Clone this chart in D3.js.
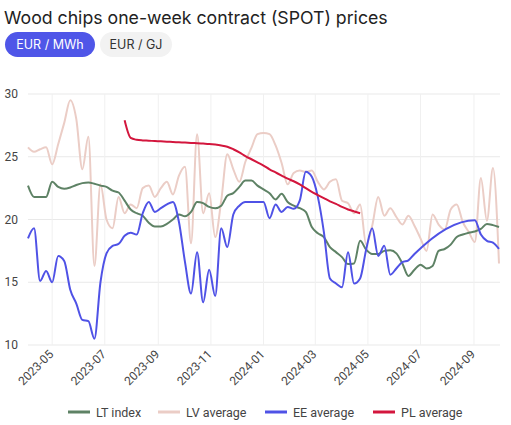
<!DOCTYPE html>
<html><head><meta charset="utf-8">
<script src="https://cdn.jsdelivr.net/npm/d3@7"></script>
<style>
html,body{margin:0;padding:0;background:#fff;}
svg{display:block;font-family:Inter,"Noto Sans",sans-serif;}
.ax{font-family:Roboto,"Liberation Sans",sans-serif;}
</style></head>
<body>
<svg id="chart" width="511" height="425"></svg>
<script>
const startWeek = "2023-04-03";
const weekCount = 79;
const yTicks = [10, 15, 20, 25, 30];
const xTickLabels = ["2023-05","2023-07","2023-09","2023-11","2024-01","2024-03","2024-05","2024-07","2024-09"];
const seriesNames = ["LT index","LV average","EE average","PL average"];
const seriesColors = ["#5e8265","#ebcdc6","#4f52e6","#d3163d"];

const ltIndex = [22.7,21.8,21.8,21.8,23.0,22.6,22.45,22.55,22.75,22.9,22.95,22.85,22.7,22.6,22.3,22.15,21.5,20.8,20.5,20.3,19.75,19.45,19.45,19.65,20.0,20.4,20.25,20.6,21.4,21.3,21.0,20.9,21.1,21.9,22.1,22.6,23.1,23.1,22.7,22.4,22.1,21.6,22.05,21.4,21.1,20.9,20.6,19.4,18.9,18.6,17.8,17.4,17.0,16.45,16.5,18.3,17.6,17.25,17.25,17.5,17.55,17.3,16.5,15.5,16.0,16.4,16.1,16.3,17.5,17.65,18.0,18.6,18.8,18.95,19.05,19.25,19.65,19.55,19.4];
const lvAverage = [25.75,25.4,25.6,25.75,24.4,26.0,27.7,29.5,28.0,24.0,26.6,16.3,22.8,20.0,19.3,21.8,20.5,21.2,20.9,22.5,22.7,21.8,22.5,23.0,22.0,23.5,24.2,18.1,26.8,20.5,22.1,18.6,21.5,25.2,24.0,23.0,24.6,25.7,26.8,26.9,26.8,25.9,24.5,22.8,23.7,23.9,23.8,23.9,23.0,22.4,23.0,23.2,21.5,21.3,20.5,21.2,18.0,19.5,21.8,20.3,20.9,20.2,19.6,20.3,19.5,18.5,17.5,20.4,19.6,19.2,20.8,21.2,19.8,19.0,18.2,23.3,19.9,24.1,16.5];
const eeAverage = [18.5,19.3,15.1,15.9,15.0,17.1,16.7,14.4,13.3,12.0,11.9,10.5,15.0,17.3,17.9,18.05,18.7,18.95,18.8,20.5,21.4,20.6,20.9,21.2,21.4,19.8,16.6,14.1,17.4,13.4,16.0,13.9,19.3,17.8,20.4,21.1,21.4,21.4,21.4,21.4,20.1,21.2,20.6,21.0,20.85,21.5,23.8,23.4,21.8,19.0,15.3,14.9,14.6,17.4,14.9,15.3,17.6,19.3,17.1,17.9,15.6,16.1,16.6,16.75,17.25,null,null,null,null,null,null,null,null,null,19.95,18.8,18.3,18.15,17.65];
const plAverage = [null,null,null,null,null,null,null,null,null,null,null,null,null,null,null,null,27.9,26.5,26.35,26.3,26.28,26.25,26.23,26.2,26.18,26.15,26.13,26.1,26.08,26.05,26.02,25.97,25.9,25.8,25.6,25.35,25.05,24.8,24.55,24.3,24.0,23.75,23.5,23.25,23.05,22.8,22.5,22.2,21.95,21.7,21.45,21.25,21.0,20.8,20.65,20.5,null,null,null,null,null,null,null,null,null,null,null,null,null,null,null,null,null,null,null,null,null,null,null];

const parse = d3.timeParse("%Y-%m-%d");
const fmt = d3.timeFormat("%Y-%m");
const dates = d3.range(weekCount).map(i => d3.timeDay.offset(parse(startWeek), 7*i));
const allSeries = [ltIndex, lvAverage, eeAverage, plAverage];

const svg = d3.select("#chart");
const plotL = 28, plotR = 499, plotT = 94, plotB = 345;

const x = d3.scaleTime().domain([dates[0], dates[dates.length-1]]).range([plotL, plotR]);
const y = d3.scaleLinear().domain([10, 30]).range([plotB, plotT]);

// title
svg.append("text").attr("x", 4).attr("y", 24).attr("font-size", 17.7).attr("fill", "#222")
  .text("Wood chips one-week contract (SPOT) prices");

// buttons
const btns = [{t:"EUR / MWh", x:5, w:90, fill:"#4f56e8", color:"#fff"},{t:"EUR / GJ", x:100, w:72, fill:"#f2f2f2", color:"#333"}];
btns.forEach(b => {
  svg.append("rect").attr("x", b.x).attr("y", 32).attr("width", b.w).attr("height", 25).attr("rx", 12.5).attr("fill", b.fill);
  svg.append("text").attr("x", b.x + b.w/2).attr("y", 49).attr("text-anchor", "middle").attr("font-size", 12.5).attr("fill", b.color).text(b.t);
});

// grid
const tickDates = xTickLabels.map(s => parse(s + "-01"));
svg.append("g").selectAll("line").data(yTicks).join("line")
  .attr("x1", plotL).attr("x2", plotR + 1).attr("y1", d => y(d)).attr("y2", d => y(d))
  .attr("stroke", "#e9e9e9").attr("stroke-width", 1);
svg.append("g").selectAll("line").data(tickDates).join("line")
  .attr("x1", d => x(d)).attr("x2", d => x(d)).attr("y1", plotT).attr("y2", plotB)
  .attr("stroke", "#f0f0f0").attr("stroke-width", 1);

// y labels
svg.append("g").attr("class", "ax").selectAll("text").data(yTicks).join("text")
  .attr("x", 18).attr("y", d => y(d) + 4).attr("text-anchor", "end")
  .attr("font-size", 12).attr("fill", "#444").text(d => d);

// x labels
svg.append("g").attr("class", "ax").selectAll("text").data(tickDates).join("text")
  .attr("transform", d => `translate(${x(d)+2},${plotB + 10}) rotate(-45)`)
  .attr("text-anchor", "end").attr("font-size", 12).attr("fill", "#444").text(d => fmt(d));

// lines
const line = d3.line().x(d => x(d.d)).y(d => y(d.v)).curve(d3.curveMonotoneX);
const order = [1, 0, 2, 3];
order.forEach(i => {
  const pts = dates.map((d, j) => ({d, v: allSeries[i][j]})).filter(p => p.v !== null);
  svg.append("path").datum(pts).attr("d", line).attr("fill", "none")
    .attr("stroke", seriesColors[i]).attr("stroke-width", 2).attr("stroke-linejoin", "round");
});

// legend
const legX = [68, 158, 265, 373];
seriesNames.forEach((n, i) => {
  svg.append("line").attr("x1", legX[i]).attr("x2", legX[i] + 22).attr("y1", 412).attr("y2", 412)
    .attr("stroke", seriesColors[i]).attr("stroke-width", 3);
  svg.append("text").attr("class", "ax").attr("x", legX[i] + 28).attr("y", 417).attr("font-size", 12.5).attr("fill", "#444").text(n);
});
</script>
</body></html>
